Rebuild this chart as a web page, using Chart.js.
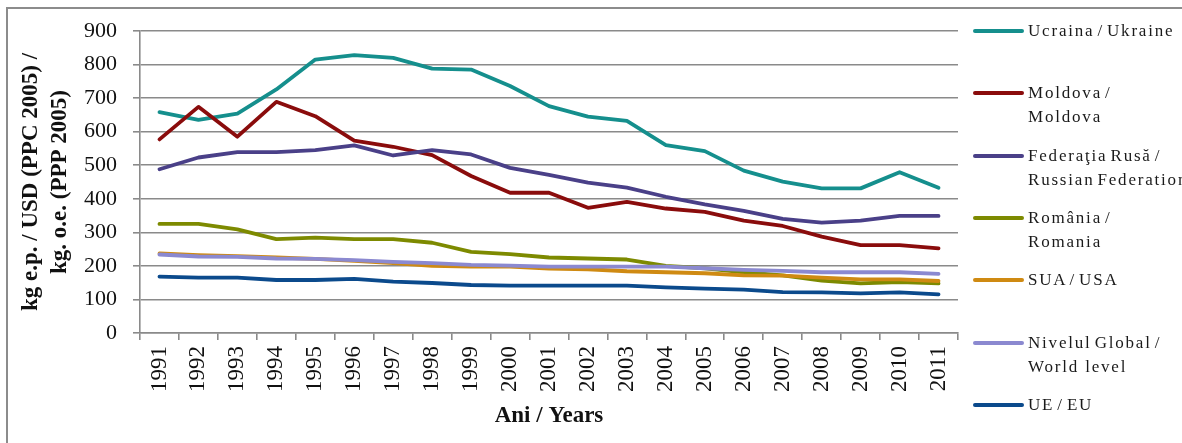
<!DOCTYPE html>
<html>
<head>
<meta charset="utf-8">
<script src="https://cdn.jsdelivr.net/npm/chart.js@4"></script>
<style>
html,body{margin:0;padding:0;width:1182px;height:443px;overflow:hidden;background:#fff;}
#frame{position:absolute;left:6px;top:7px;width:1200px;height:460px;border:2px solid #8c8c8c;box-sizing:border-box;}
#c{position:absolute;left:0;top:0;}
.sw{position:absolute;left:973px;width:51px;height:4px;border-radius:2px;}
.lt{position:absolute;left:1028px;font-family:'Liberation Serif','Times New Roman',serif;font-size:17px;line-height:24px;letter-spacing:1.8px;word-spacing:-3px;white-space:pre;color:#1a1a1a;}
</style>
</head>
<body>
<div id="frame"></div>
<canvas id="c" width="1182" height="443"></canvas>
<div id="legend"></div>
<script>
const years = ['1991','1992','1993','1994','1995','1996','1997','1998','1999','2000','2001','2002','2003','2004','2005','2006','2007','2008','2009','2010','2011'];
const ukraine  = [658,635,654,726,815,828,820,788,785,736,676,645,632,560,542,484,451,431,431,479,433];
const moldova  = [577,674,585,689,646,573,555,530,468,418,418,373,391,371,361,335,319,287,262,262,252];
const russia   = [488,523,539,539,545,559,529,545,532,492,471,448,433,406,383,364,340,329,335,349,349];
const romania  = [325,325,309,280,284,280,280,269,242,235,225,222,219,200,193,181,172,156,148,152,148];
const usa      = [237,232,229,225,221,215,208,200,198,198,192,190,184,181,178,172,171,165,160,160,155];
const world    = [234,228,227,222,221,217,212,208,203,201,198,198,198,198,193,188,185,181,181,181,176];
const eu       = [168,165,165,158,158,161,153,149,143,141,141,141,141,136,132,129,122,121,118,121,115];
const seriesLabels = ['Ucraina / Ukraine','Moldova /\nMoldova','Federaţia Rusă /\nRussian Federation','România /\nRomania','SUA / USA','Nivelul Global /\nWorld  level','UE / EU'];
const seriesData = [ukraine, moldova, russia, romania, usa, world, eu];
const seriesColors = ['#158f8d','#8a0c0c','#4a4088','#7d8a00','#cf8a12','#8b89d0','#0b4a8c'];
const drawOrder = [7,6,5,4,3,2,1];
const yTitle = ['kg e.p. / USD (PPC 2005) /','kg. o.e. (PPP 2005)'];
const xTitle = 'Ani / Years';

Chart.defaults.font.family = "'Liberation Serif','Times New Roman',serif";
Chart.defaults.color = '#111';

const gridColor = '#8a8a8a';

const chart = new Chart(document.getElementById('c'), {
  type: 'line',
  data: {
    labels: years,
    datasets: seriesData.map((d, i) => ({
      label: seriesLabels[i].replace('\n', ' '),
      data: d,
      borderColor: seriesColors[i],
      backgroundColor: seriesColors[i],
      borderWidth: 3.8,
      pointRadius: 0,
      tension: 0,
      fill: false,
      borderJoinStyle: 'round',
      borderCapStyle: 'round',
      order: drawOrder[i]
    }))
  },
  options: {
    responsive: false,
    animation: false,
    devicePixelRatio: 1,
    layout: { padding: { left: 0, top: 31, right: 224, bottom: 0 } },
    plugins: { legend: { display: false }, tooltip: { enabled: false } },
    scales: {
      x: {
        offset: true,
        grid: { display: true, offset: true, drawOnChartArea: false, drawTicks: true, tickLength: 7, color: gridColor, lineWidth: 1.6 },
        border: { display: true, color: gridColor, width: 1.6 },
        ticks: { maxRotation: 90, minRotation: 90, autoSkip: false, padding: 6, font: { size: 23 }, color: '#111' },
        title: { display: true, text: xTitle, font: { size: 23, weight: 'bold' }, padding: { top: 0, bottom: 13 }, color: '#111' },
        afterFit: s => { s.height = 110; }
      },
      y: {
        min: 0, max: 900,
        ticks: { stepSize: 100, padding: 16, font: { size: 22 }, color: '#111' },
        grid: { color: gridColor, lineWidth: 1.6, tickLength: 7 },
        border: { display: true, color: gridColor, width: 1.6 },
        title: { display: true, text: yTitle, font: { size: 23, weight: 'bold', lineHeight: 1.25 }, padding: { top: 17, bottom: 0 }, color: '#111' },
        afterFit: s => { s.width = 140; }
      }
    }
  }
});

// HTML legend built from the series arrays
const legend = document.getElementById('legend');
seriesLabels.forEach((lab, i) => {
  const y = 31 + i * 62.3;
  const sw = document.createElement('div');
  sw.className = 'sw';
  sw.style.top = (y - 2) + 'px';
  sw.style.background = seriesColors[i];
  legend.appendChild(sw);
  const t = document.createElement('div');
  t.className = 'lt';
  t.style.top = (y - 12) + 'px';
  t.textContent = lab;
  legend.appendChild(t);
});
</script>
</body>
</html>
